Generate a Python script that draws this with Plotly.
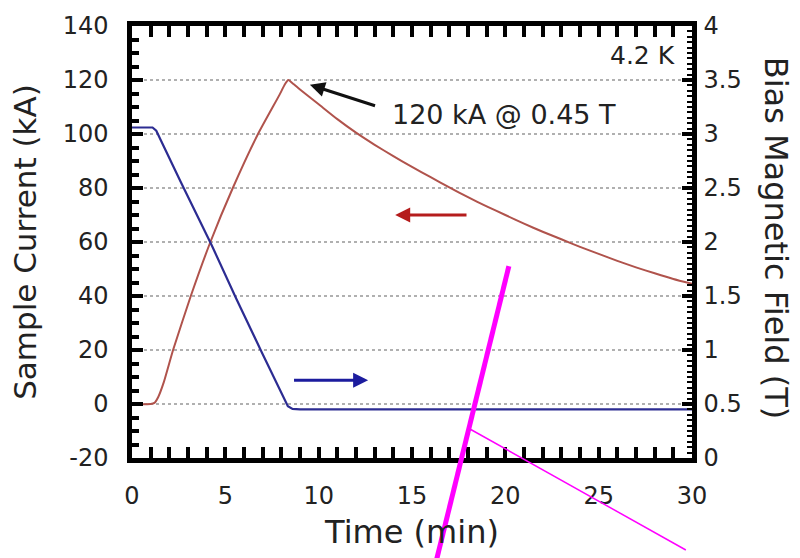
import plotly.graph_objects as go

# Sample current (kA) versus time (min)
current_time = [0, 1.0, 1.2, 1.4, 1.7, 2.2, 3.15, 4.2, 5.4, 6.75, 7.9, 8.2, 8.37, 8.6,
                9, 10, 11, 12, 13, 14, 15, 16, 17, 18, 19, 20, 21, 22, 23, 24, 25,
                26, 27, 28, 29, 30]
current_kA = [0, 0, 0.4, 2.5, 8, 20, 40, 60, 80, 100, 114.5, 118.5, 120, 118.8,
              116.5, 111, 105.5, 100.5, 96, 91.8, 87.8, 84, 80.2, 76.6, 73.2, 70,
              66.8, 63.8, 61, 58.2, 55.6, 53, 50.6, 48.4, 46.3, 44.5]

# Bias magnetic field (T) versus time (min)
field_time = [0, 1.1, 1.3, 1.5, 2.6, 4.27, 5.6, 6.95, 8.1, 8.35, 8.6, 9.0, 30]
field_T = [3.06, 3.06, 3.03, 2.96, 2.56, 1.97, 1.47, 0.98, 0.56, 0.48, 0.455, 0.45, 0.45]

# Axis ticks
x_ticks = [0, 5, 10, 15, 20, 25, 30]
y_left_ticks = [-20, 0, 20, 40, 60, 80, 100, 120, 140]
y_left_labels = ["-20", "0", "20", "40", "60", "80", "100", "120", "140"]
y_right_ticks = [0, 0.5, 1, 1.5, 2, 2.5, 3, 3.5, 4]
y_right_labels = ["0", "0.5", "1", "1.5", "2", "2.5", "3", "3.5", "4"]

FONT = "DejaVu Sans"
RED = "#b0534c"
BLUE = "#2c2c92"

fig = go.Figure()
fig.add_trace(go.Scatter(x=current_time, y=current_kA, mode="lines",
                         line=dict(color=RED, width=2, shape="spline", smoothing=0.5),
                         yaxis="y", showlegend=False))
fig.add_trace(go.Scatter(x=field_time, y=field_T, mode="lines",
                         line=dict(color=BLUE, width=2.2), yaxis="y2", showlegend=False))

tick_font = dict(family=FONT, size=24, color="#222")

fig.update_layout(
    width=800, height=558,
    margin=dict(l=132, r=108, t=23, b=94),
    paper_bgcolor="white", plot_bgcolor="white",
    font=dict(family=FONT, color="#222"),
    xaxis=dict(
        range=[0, 30], tickvals=x_ticks, ticks="inside", ticklen=11, tickwidth=3.5,
        tickcolor="black", showline=True, linewidth=4.5, linecolor="black",
        mirror="allticks", showgrid=False, zeroline=False, tickfont=tick_font,
        ticklabelstandoff=12,
        minor=dict(dtick=1, ticks="inside", ticklen=6, tickwidth=3.5, tickcolor="black",
                   showgrid=False),
        title=dict(text="Time (min)", font=dict(family=FONT, size=32, color="#222"),
                   standoff=14),
    ),
    yaxis=dict(
        range=[-20, 140], tickvals=y_left_ticks, ticktext=y_left_labels,
        ticks="inside", ticklen=11, tickwidth=3.5, tickcolor="black",
        showline=True, linewidth=4.5, linecolor="black", zeroline=False,
        showgrid=True, gridcolor="#b0b0b0", griddash="dot", gridwidth=2,
        tickfont=tick_font, ticklabelstandoff=14,
        minor=dict(dtick=5, ticks="inside", ticklen=7, tickwidth=3.5, tickcolor="black",
                   showgrid=False),
        title=dict(text="Sample Current (kA)",
                   font=dict(family=FONT, size=31, color="#222"), standoff=18),
    ),
    yaxis2=dict(
        range=[0, 4], tickvals=y_right_ticks, ticktext=y_right_labels,
        overlaying="y", side="right", anchor="x",
        ticks="inside", ticklen=10, tickwidth=3.5, tickcolor="black",
        showline=True, linewidth=4.5, linecolor="black", zeroline=False,
        showgrid=False, tickfont=tick_font, ticklabelstandoff=2,
        minor=dict(dtick=0.05, ticks="inside", ticklen=5, tickwidth=2, tickcolor="black",
                   showgrid=False),
    ),
    annotations=[
        # right-axis title, reading top to bottom
        dict(text="Bias Magnetic Field (T)", xref="paper", yref="paper",
             x=1.15, y=0.51, xanchor="center", yanchor="middle", textangle=90,
             showarrow=False, font=dict(family=FONT, size=32, color="#222")),
        dict(text="4.2 K", xref="x", yref="y", x=29.2, y=129.2, xanchor="right",
             yanchor="middle", showarrow=False, font=dict(family=FONT, size=25, color="#222")),
        dict(text="120 kA @ 0.45 T", xref="x", yref="y", x=13.8, y=107.4,
             xanchor="left", yanchor="middle", showarrow=False,
             font=dict(family=FONT, size=27, color="#222")),
        # pointer to the peak current
        dict(text="", xref="x", yref="y", x=9.53, y=118.2, axref="x", ayref="y",
             ax=13.1, ay=110.3, showarrow=True, arrowhead=2, arrowsize=1,
             arrowwidth=3, arrowcolor="#111"),
        # red arrow: current curve belongs to the left axis
        dict(text="", xref="x", yref="y", x=14.1, y=70, axref="x", ayref="y",
             ax=18.0, ay=70, showarrow=True, arrowhead=2, arrowsize=1,
             arrowwidth=3, arrowcolor="#b51c1c"),
        # blue arrow: field curve belongs to the right axis
        dict(text="", xref="x", yref="y2", x=12.65, y=0.72, axref="x", ayref="y2",
             ax=8.6, ay=0.72, showarrow=True, arrowhead=2, arrowsize=1,
             arrowwidth=3, arrowcolor="#1c1c9e"),
    ],
    shapes=[
        dict(type="line", xref="paper", yref="paper", x0=0.673, y0=0.444,
             x1=0.543, y1=-0.24, line=dict(color="#ff00ff", width=5)),
        dict(type="line", xref="paper", yref="paper", x0=0.605, y0=0.066,
             x1=0.989, y1=-0.213, line=dict(color="#ff00ff", width=1.5)),
    ],
)

fig.write_html("out.html")
